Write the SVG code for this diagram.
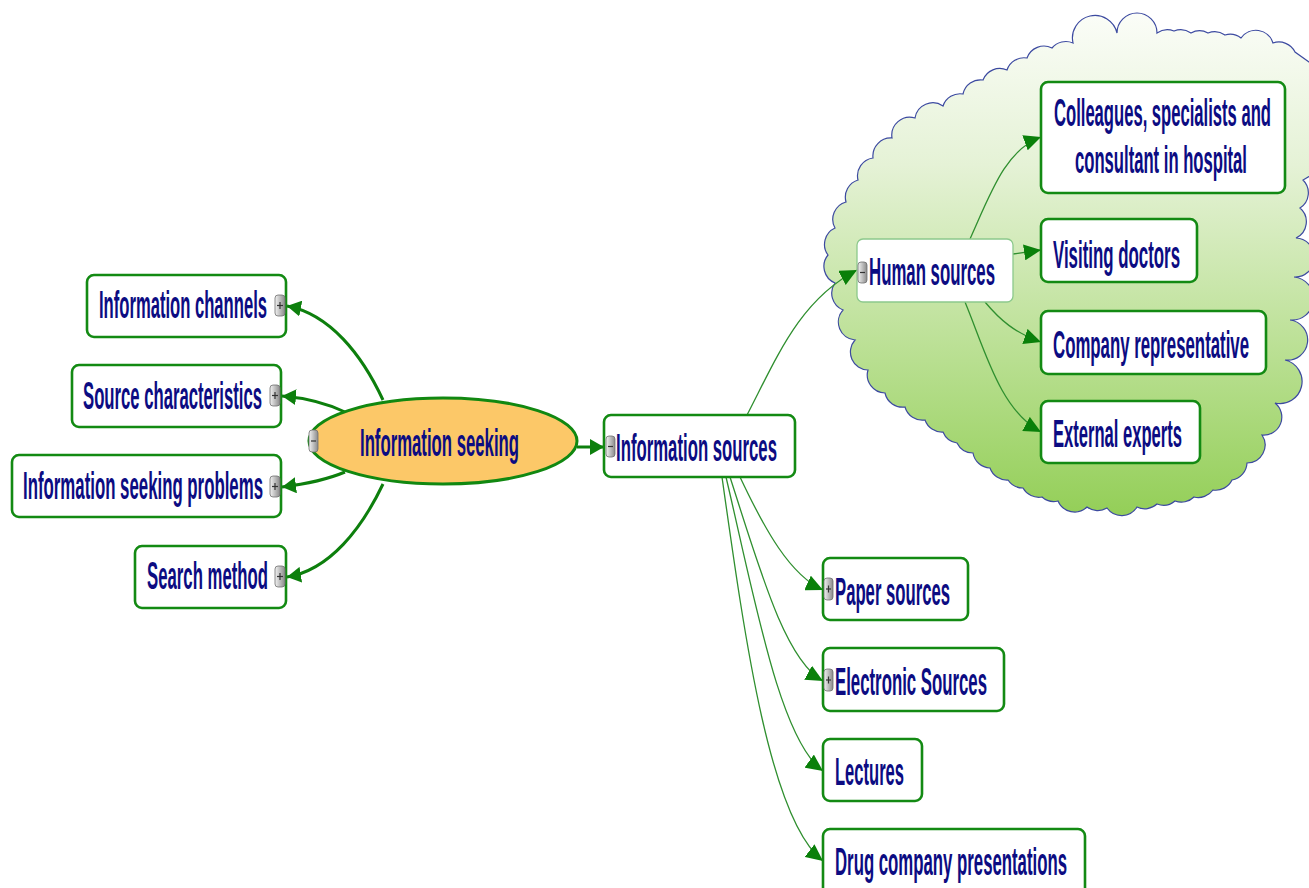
<svg xmlns="http://www.w3.org/2000/svg" width="1309" height="888" viewBox="0 0 1309 888">
  <style>
    .box { fill: #ffffff; stroke: #138a13; stroke-width: 2.6; }
    .box-light { fill: #ffffff; stroke: #8cc98c; stroke-width: 1.3; }
    .lbl { font-family: "Liberation Sans Narrow", "Liberation Sans", Arial, sans-serif; font-weight: bold; font-size: 38px; fill: #0c0c82; }
    .thick { fill: none; stroke: #0d7f0d; stroke-width: 3; }
    .thin { fill: none; stroke: #2f8f2f; stroke-width: 1.3; }
    .btn { fill: url(#btnGrad); stroke: #6e6e6e; stroke-width: 0.8; }
    .sign { stroke: #333333; stroke-width: 1.2; }
  </style>
  <defs>
    <linearGradient id="cloudGrad" x1="0" y1="12" x2="0" y2="522" gradientUnits="userSpaceOnUse">
      <stop offset="0" stop-color="#fbfdf8"/>
      <stop offset="0.3" stop-color="#e5f2d6"/>
      <stop offset="0.7" stop-color="#b6de8d"/>
      <stop offset="1" stop-color="#92ce55"/>
    </linearGradient>
    <linearGradient id="btnGrad" x1="0" y1="0" x2="1" y2="0">
      <stop offset="0" stop-color="#f2f2f2"/>
      <stop offset="1" stop-color="#8a8a8a"/>
    </linearGradient>
    <marker id="headThick" markerUnits="userSpaceOnUse" markerWidth="16" markerHeight="16" refX="14" refY="8" orient="auto">
      <path d="M0,0 L14,8 L0,16 z" fill="#0d7f0d"/>
    </marker>
    <marker id="headThin" markerUnits="userSpaceOnUse" markerWidth="18" markerHeight="16" refX="17" refY="8" orient="auto">
      <path d="M0,0 L17,8 L0,16 z" fill="#0a800a"/>
    </marker>
  </defs>

  <rect width="1309" height="888" fill="#ffffff"/>

  <!-- boundary cloud around the human sources branch -->
  <path id="cloud" fill="url(#cloudGrad)" stroke="#3c4aa0" stroke-width="1.2" d="M828,255 A18,18 0 0 1 835,228 A18,18 0 0 1 846,202 A18,18 0 0 1 858,180 A18,18 0 0 1 873,158 A18,18 0 0 1 892,138 A18,18 0 0 1 915,118 A18,18 0 0 1 943,106 A18,18 0 0 1 963,94 A18,18 0 0 1 983,80 A18,18 0 0 1 1007,70 A18,18 0 0 1 1027,58 A18,18 0 0 1 1052,48 A18,18 0 0 1 1073,43 A18,18 0 0 1 1117,33 A18,18 0 0 1 1157,33 A18,18 0 0 1 1174,31 A18,18 0 0 1 1191,33 A18,18 0 0 1 1208,33 A18,18 0 0 1 1225,35 A18,18 0 0 1 1241,38 A18,18 0 0 1 1273,43 A18,18 0 0 1 1295,52 L1320,70 L1320,170 L1303,180 A18,18 0 0 1 1300,208 A18,18 0 0 1 1296,238 A18,18 0 0 1 1294,277 A18,18 0 0 1 1290,320 A18,18 0 0 1 1285,360 A18,18 0 0 1 1275,403 A18,18 0 0 1 1262,435 A18,18 0 0 1 1247,463 A18,18 0 0 1 1232,480 A18,18 0 0 1 1213,490 A18,18 0 0 1 1194,497 A18,18 0 0 1 1175,501 A18,18 0 0 1 1157,504 A18,18 0 0 1 1137,507 A18,18 0 0 1 1107,508 A18,18 0 0 1 1087,507 A18,18 0 0 1 1058,501 A18,18 0 0 1 1042,497 A18,18 0 0 1 1023,488 A18,18 0 0 1 1008,480 A18,18 0 0 1 990,468 A18,18 0 0 1 973,453 A18,18 0 0 1 957,443 A18,18 0 0 1 943,432 A18,18 0 0 1 925,420 A18,18 0 0 1 905,407 A18,18 0 0 1 885,393 A18,18 0 0 1 868,370 A18,18 0 0 1 855,340 A18,18 0 0 1 843,310 A18,18 0 0 1 835,283 A18,18 0 0 1 828,255 Z"/>

  <!-- connectors -->
  <g id="connectors">
    <path class="thick" d="M383,400 C362,355 330,314 287,306" marker-end="url(#headThick)"/>
    <path class="thick" d="M345,412 C326,403 306,398 282,396" marker-end="url(#headThick)"/>
    <path class="thick" d="M345,472 C326,480 306,484 282,487" marker-end="url(#headThick)"/>
    <path class="thick" d="M383,484 C362,528 330,570 287,577" marker-end="url(#headThick)"/>
    <path class="thick" d="M577,447 L604,447" marker-end="url(#headThick)"/>

    <path class="thin" d="M747,415 C778,355 800,300 857,270" marker-end="url(#headThin)"/>
    <path class="thin" d="M970,239 C990,195 1005,150 1041,137" marker-end="url(#headThin)"/>
    <path class="thin" d="M1013,254 L1041,250" marker-end="url(#headThin)"/>
    <path class="thin" d="M985,302 C1000,320 1015,333 1041,342" marker-end="url(#headThin)"/>
    <path class="thin" d="M965,302 C985,350 1000,410 1041,432" marker-end="url(#headThin)"/>

    <path class="thin" d="M740,477 C765,530 790,575 823,590" marker-end="url(#headThin)"/>
    <path class="thin" d="M730,477 C760,570 785,660 823,681" marker-end="url(#headThin)"/>
    <path class="thin" d="M726,477 C755,600 780,740 823,771" marker-end="url(#headThin)"/>
    <path class="thin" d="M722,477 C745,640 770,820 823,861" marker-end="url(#headThin)"/>
  </g>

  <!-- central topic -->
  <g id="information-seeking">
    <ellipse cx="443" cy="441" rx="134" ry="43" fill="#fcc868" stroke="#118811" stroke-width="3"/>
    <rect class="btn" x="309" y="430" width="9" height="22" rx="3"/>
    <line class="sign" x1="311" y1="441" x2="316" y2="441"/>
    <text class="lbl" x="360" y="456" textLength="159" lengthAdjust="spacingAndGlyphs">Information seeking</text>
  </g>

  <!-- left branches -->
  <g id="information-channels">
    <rect class="box" x="87" y="275" width="199" height="62" rx="7"/>
    <text class="lbl" x="99" y="318" textLength="168" lengthAdjust="spacingAndGlyphs">Information channels</text>
    <rect class="btn" x="275" y="295" width="10" height="21" rx="3"/>
    <line class="sign" x1="277" y1="305.5" x2="283" y2="305.5"/>
    <line class="sign" x1="280" y1="302" x2="280" y2="309"/>
  </g>

  <g id="source-characteristics">
    <rect class="box" x="72" y="365" width="209" height="62" rx="7"/>
    <text class="lbl" x="83" y="409" textLength="179" lengthAdjust="spacingAndGlyphs">Source characteristics</text>
    <rect class="btn" x="270" y="385" width="10" height="21" rx="3"/>
    <line class="sign" x1="272" y1="395.5" x2="278" y2="395.5"/>
    <line class="sign" x1="275" y1="392" x2="275" y2="399"/>
  </g>

  <g id="information-seeking-problems">
    <rect class="box" x="12" y="455" width="269" height="62" rx="7"/>
    <text class="lbl" x="23" y="499" textLength="240" lengthAdjust="spacingAndGlyphs">Information seeking problems</text>
    <rect class="btn" x="270" y="476" width="10" height="21" rx="3"/>
    <line class="sign" x1="272" y1="486.5" x2="278" y2="486.5"/>
    <line class="sign" x1="275" y1="483" x2="275" y2="490"/>
  </g>

  <g id="search-method">
    <rect class="box" x="135" y="546" width="151" height="62" rx="7"/>
    <text class="lbl" x="147" y="589" textLength="121" lengthAdjust="spacingAndGlyphs">Search method</text>
    <rect class="btn" x="275" y="566" width="10" height="21" rx="3"/>
    <line class="sign" x1="277" y1="576.5" x2="283" y2="576.5"/>
    <line class="sign" x1="280" y1="573" x2="280" y2="580"/>
  </g>

  <!-- right branch -->
  <g id="information-sources">
    <rect class="box" x="604" y="415" width="191" height="62" rx="7"/>
    <rect class="btn" x="606" y="436" width="9" height="21" rx="3"/>
    <line class="sign" x1="608" y1="446.5" x2="613" y2="446.5"/>
    <text class="lbl" x="616" y="461" textLength="161" lengthAdjust="spacingAndGlyphs">Information sources</text>
  </g>

  <g id="human-sources">
    <rect class="box-light" x="857" y="239" width="156" height="63" rx="6"/>
    <rect class="btn" x="858" y="262" width="9" height="21" rx="3"/>
    <line class="sign" x1="860" y1="272.5" x2="865" y2="272.5"/>
    <text class="lbl" x="869" y="285" textLength="126" lengthAdjust="spacingAndGlyphs">Human sources</text>
  </g>

  <g id="colleagues">
    <rect class="box" x="1041" y="82" width="244" height="111" rx="7"/>
    <text class="lbl" x="1054" y="126" textLength="217" lengthAdjust="spacingAndGlyphs">Colleagues, specialists and</text>
    <text class="lbl" x="1075" y="173" textLength="172" lengthAdjust="spacingAndGlyphs">consultant in hospital</text>
  </g>

  <g id="visiting-doctors">
    <rect class="box" x="1041" y="219" width="156" height="63" rx="7"/>
    <text class="lbl" x="1053" y="268" textLength="127" lengthAdjust="spacingAndGlyphs">Visiting doctors</text>
  </g>

  <g id="company-representative">
    <rect class="box" x="1041" y="311" width="225" height="63" rx="7"/>
    <text class="lbl" x="1053" y="358" textLength="196" lengthAdjust="spacingAndGlyphs">Company representative</text>
  </g>

  <g id="external-experts">
    <rect class="box" x="1041" y="401" width="159" height="62" rx="7"/>
    <text class="lbl" x="1053" y="447" textLength="129" lengthAdjust="spacingAndGlyphs">External experts</text>
  </g>

  <g id="paper-sources">
    <rect class="box" x="823" y="558" width="145" height="62" rx="7"/>
    <rect class="btn" x="824" y="578" width="9" height="22" rx="3"/>
    <line class="sign" x1="826" y1="589" x2="831" y2="589"/>
    <line class="sign" x1="828.5" y1="585.5" x2="828.5" y2="592.5"/>
    <text class="lbl" x="835" y="605" textLength="115" lengthAdjust="spacingAndGlyphs">Paper sources</text>
  </g>

  <g id="electronic-sources">
    <rect class="box" x="823" y="648" width="181" height="63" rx="7"/>
    <rect class="btn" x="824" y="669" width="9" height="22" rx="3"/>
    <line class="sign" x1="826" y1="680" x2="831" y2="680"/>
    <line class="sign" x1="828.5" y1="676.5" x2="828.5" y2="683.5"/>
    <text class="lbl" x="835" y="695" textLength="152" lengthAdjust="spacingAndGlyphs">Electronic Sources</text>
  </g>

  <g id="lectures">
    <rect class="box" x="823" y="739" width="99" height="62" rx="7"/>
    <text class="lbl" x="835" y="785" textLength="69" lengthAdjust="spacingAndGlyphs">Lectures</text>
  </g>

  <g id="drug-company-presentations">
    <rect class="box" x="823" y="829" width="262" height="66" rx="7"/>
    <text class="lbl" x="835" y="875" textLength="232" lengthAdjust="spacingAndGlyphs">Drug company presentations</text>
  </g>
</svg>
